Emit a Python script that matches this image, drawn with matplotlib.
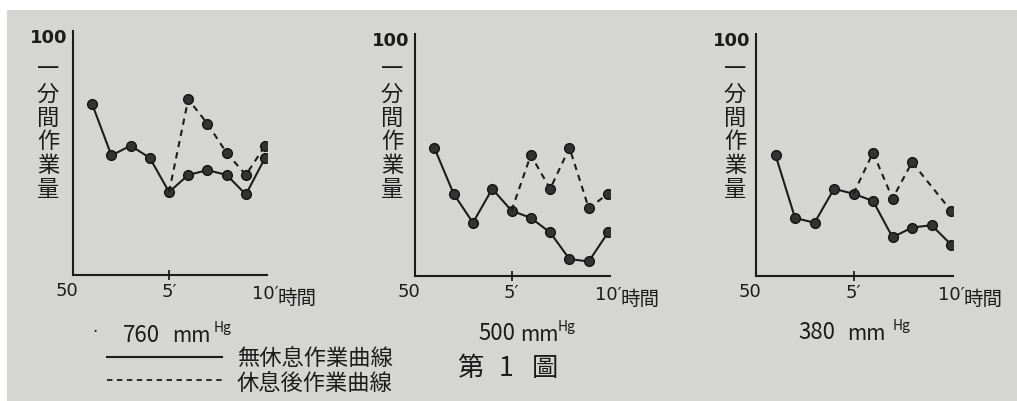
import numpy as np
import matplotlib.pyplot as plt
from matplotlib.lines import Line2D
from matplotlib.patches import Rectangle

plt.rcParams['font.family'] = ['Noto Sans CJK JP', 'DejaVu Sans']

# 時間 (分) と 一分間作業量
minutes = [1, 2, 3, 4, 5, 6, 7, 8, 9, 10]

# 760 mm Hg
p760 = [85, 74.5, 76.5, 74, 67, 70.5, 71.5, 70.5, 66.5, 74]
p760_rest_x = [5, 6, 7, 8, 9, 10]
p760_rest = [67, 86, 81, 75, 70.5, 76.5]

# 500 mm Hg
p500 = [76.5, 67, 61, 68, 63.5, 62, 59, 53.5, 53, 59]
p500_rest_x = [5, 6, 7, 8, 9, 10]
p500_rest = [63.5, 75, 68, 76.5, 64, 67]

# 380 mm Hg
p380 = [75, 62, 61, 68, 67, 65.5, 58, 60, 60.5, 56.5]
p380_rest_x = [5, 6, 7, 8, 10]
p380_rest = [67, 75.5, 66, 73.5, 63.5]

pressures = ['760', '500', '380']
ylabel = '一分間作業量'
legend_labels = ['無休息作業曲線', '休息後作業曲線']

W, H = 1017, 402
ink = '#1c1c1c'
paper = '#d5d5d4'

fig = plt.figure(figsize=(W / 100, H / 100), dpi=100, facecolor='white')
fig.patches.append(Rectangle((7 / W, 0), 1, 1 - 11 / H, transform=fig.transFigure,
                             facecolor=paper, edgecolor='none', zorder=-10))

def fx(px):
    return px / W

def fy(py):
    return 1 - py / H

# pixel frames of the three panels: left, right(x=10.1), bottom, top
frames = [(73, 267, 276, 32), (415, 610, 277, 35), (756, 953, 277, 35)]
series = [(p760, p760_rest_x, p760_rest), (p500, p500_rest_x, p500_rest),
          (p380, p380_rest_x, p380_rest)]
ylab_x = [48, 392, 735]
num_font = ['Liberation Sans Narrow', 'DejaVu Sans']

for (l, r, b, t), (solid, rx, ry), yx in zip(frames, series, ylab_x):
    ax = fig.add_axes([fx(l), fy(b), (r - l) / W, (b - t) / H])
    ax.set_facecolor('none')
    ax.set_xlim(0, 10.1)
    ax.set_ylim(50, 100)
    for s in ['top', 'right']:
        ax.spines[s].set_visible(False)
    for s in ['left', 'bottom']:
        ax.spines[s].set_linewidth(1.5)
        ax.spines[s].set_color(ink)
    ax.set_yticks([])
    ax.set_xticks([5])
    ax.set_xticklabels([])
    ax.tick_params(axis='x', direction='inout', length=7, width=1.3, color=ink)

    ax.plot(minutes, solid, '-', color=ink, lw=1.5, marker='o', ms=7,
            mfc='#333333', mec='#141414', mew=1.0, zorder=3)
    ax.plot(rx, ry, color=ink, lw=1.5, ls=(0, (3, 2.5)), marker='o', ms=7,
            mfc='#333333', mec='#141414', mew=1.0, markevery=slice(1, None), zorder=3)

    kw = dict(xycoords='data', textcoords='offset pixels', color=ink, family=num_font)
    ax.annotate('50', (0, 50), xytext=(-6, -15), ha='center', va='center', fontsize=13, **kw)
    ax.annotate('100', (0, 100), xytext=(-6, -6), ha='right', va='center', fontsize=13,
                weight='bold', **kw)
    ax.annotate('5′', (5, 50), xytext=(0, -16), ha='center', va='center', fontsize=13, **kw)
    ax.annotate('10′', (10, 50), xytext=(0, -18), ha='center', va='center', fontsize=13, **kw)
    ax.annotate('時間', (10, 50), xytext=(12, -22), xycoords='data', textcoords='offset pixels',
                ha='left', va='center', fontsize=14, color=ink)

    for i, ch in enumerate(ylabel):
        fig.text(fx(yx), fy(70 + i * 24), ch, ha='center', va='center', fontsize=16, color=ink)

# pressure labels
press_pos = [(123, 172, 214, 335), (478, 520, 558, 334), (798, 847, 893, 333)]
for p, (xn, xm, xh, yc) in zip(pressures, press_pos):
    fig.text(fx(xn), fy(yc), p, ha='left', va='center', fontsize=16, color=ink)
    fig.text(fx(xm), fy(yc + 1), 'mm', ha='left', va='center', fontsize=15, style='italic', color=ink)
    fig.text(fx(xh), fy(yc - 7), 'Hg', ha='left', va='center', fontsize=10, color=ink)
fig.text(fx(95), fy(333), '·', ha='center', va='center', fontsize=12, color=ink)

# legend
fig.add_artist(Line2D([fx(107), fx(222)], [fy(358), fy(358)], color=ink, lw=1.5))
fig.add_artist(Line2D([fx(107), fx(222)], [fy(381), fy(381)], color=ink, lw=1.3, ls=(0, (3, 2.5))))
fig.text(fx(237), fy(358), legend_labels[0], ha='left', va='center', fontsize=16, color=ink)
fig.text(fx(237), fy(383), legend_labels[1], ha='left', va='center', fontsize=16, color=ink)

# 第1圖
for ch, cx in zip(['第', '1', '圖'], [470, 506, 545]):
    fig.text(fx(cx), fy(368), ch, ha='center', va='center', fontsize=19, color=ink)

fig.savefig('out.png', dpi=100, facecolor=fig.get_facecolor())
